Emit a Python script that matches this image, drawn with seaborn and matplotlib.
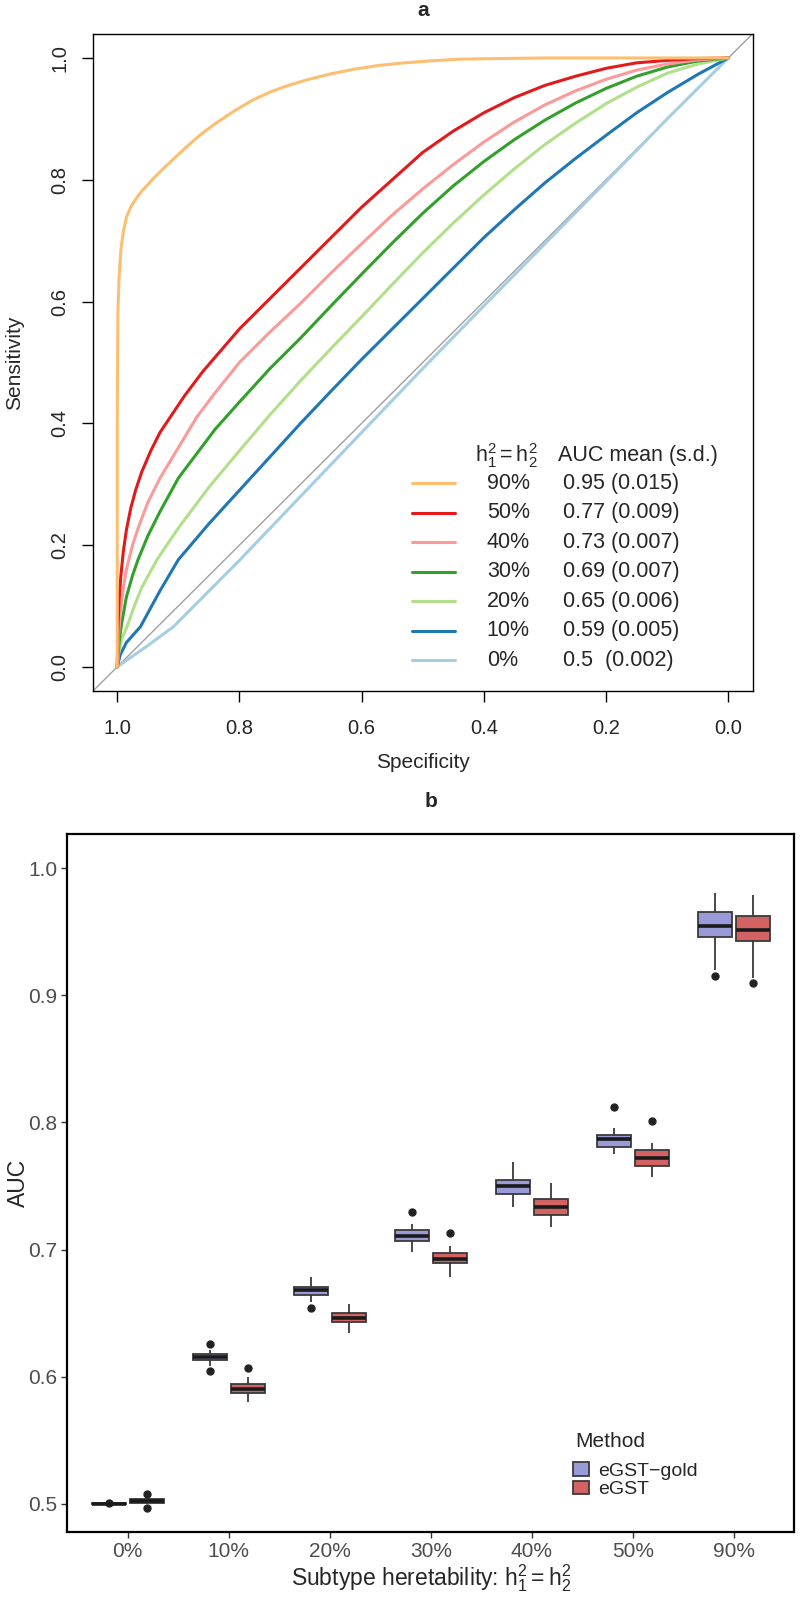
import matplotlib
matplotlib.use("Agg")
import matplotlib.pyplot as plt
import seaborn as sns
import pandas as pd

sns.set_theme(style="white")
plt.rcParams['font.family'] = ['Liberation Sans', 'DejaVu Sans']
plt.rcParams['mathtext.fontset'] = 'custom'
plt.rcParams['mathtext.rm'] = 'Liberation Sans'
plt.rcParams['mathtext.it'] = 'Liberation Sans:italic'

# ---------------- panel a: ROC curves (specificity, sensitivity)
h2_levels = ["90%", "50%", "40%", "30%", "20%", "10%", "0%"]
auc_text = ["0.95 (0.015)", "0.77 (0.009)", "0.73 (0.007)", "0.69 (0.007)",
            "0.65 (0.006)", "0.59 (0.005)", "0.5  (0.002)"]
roc_colors = ["#FDBF6F", "#E31A1C", "#FB9A99", "#33A02C", "#B2DF8A", "#1F78B4", "#A6CEE3"]

spec_90 = [1.0, 1.0, 0.999, 0.997, 0.994, 0.99, 0.985, 0.978, 0.97, 0.96, 0.95, 0.94,
           0.925, 0.91, 0.89, 0.865, 0.84, 0.81, 0.78, 0.75, 0.72, 0.69, 0.65, 0.61,
           0.57, 0.53, 0.49, 0.44, 0.38, 0.30, 0.0]
sens_90 = [0.0, 0.40, 0.58, 0.64, 0.685, 0.715, 0.738, 0.755, 0.768, 0.781, 0.792, 0.803,
           0.818, 0.832, 0.851, 0.873, 0.892, 0.912, 0.930, 0.944, 0.955, 0.964, 0.974, 0.982,
           0.988, 0.992, 0.995, 0.998, 0.999, 1.0, 1.0]
spec_50 = [1.0, 0.999, 0.997, 0.994, 0.99, 0.985, 0.978, 0.97, 0.96, 0.945, 0.93, 0.91,
           0.89, 0.86, 0.83, 0.80, 0.75, 0.70, 0.65, 0.60, 0.55, 0.50, 0.45, 0.40, 0.35,
           0.30, 0.25, 0.20, 0.15, 0.10, 0.05, 0.0]
sens_50 = [0.0, 0.06, 0.11, 0.15, 0.19, 0.225, 0.26, 0.29, 0.32, 0.355, 0.385, 0.415,
           0.445, 0.485, 0.52, 0.555, 0.605, 0.655, 0.705, 0.755, 0.80, 0.845, 0.88, 0.91,
           0.935, 0.955, 0.97, 0.983, 0.992, 0.996, 0.999, 1.0]
spec_40 = [1.0, 0.998, 0.995, 0.99, 0.985, 0.975, 0.965, 0.95, 0.93, 0.90, 0.87, 0.84,
           0.80, 0.75, 0.70, 0.65, 0.60, 0.55, 0.50, 0.45, 0.40, 0.35, 0.30, 0.25, 0.20,
           0.15, 0.10, 0.05, 0.0]
sens_40 = [0.0, 0.05, 0.09, 0.13, 0.16, 0.20, 0.23, 0.27, 0.31, 0.36, 0.41, 0.45,
           0.50, 0.55, 0.597, 0.647, 0.695, 0.742, 0.785, 0.825, 0.862, 0.895, 0.923, 0.946,
           0.965, 0.98, 0.99, 0.997, 1.0]
spec_30 = [1.0, 0.997, 0.993, 0.985, 0.975, 0.966, 0.95, 0.93, 0.90, 0.87, 0.84, 0.80,
           0.75, 0.70, 0.65, 0.60, 0.55, 0.50, 0.45, 0.40, 0.35, 0.30, 0.25, 0.20, 0.15,
           0.10, 0.05, 0.0]
sens_30 = [0.0, 0.04, 0.07, 0.115, 0.15, 0.176, 0.215, 0.255, 0.31, 0.35, 0.39, 0.435,
           0.49, 0.54, 0.593, 0.645, 0.696, 0.745, 0.79, 0.83, 0.866, 0.898, 0.926, 0.95,
           0.97, 0.985, 0.995, 1.0]
spec_20 = [1.0, 0.998, 0.993, 0.984, 0.972, 0.96, 0.935, 0.90, 0.85, 0.80, 0.75, 0.70,
           0.65, 0.60, 0.55, 0.50, 0.45, 0.40, 0.35, 0.30, 0.25, 0.20, 0.15, 0.10, 0.05, 0.0]
sens_20 = [0.0, 0.02, 0.045, 0.066, 0.10, 0.13, 0.176, 0.228, 0.295, 0.355, 0.414, 0.47,
           0.523, 0.575, 0.628, 0.68, 0.729, 0.775, 0.818, 0.858, 0.893, 0.925, 0.952,
           0.975, 0.99, 1.0]
spec_10 = [1.0, 0.995, 0.985, 0.962, 0.93, 0.90, 0.85, 0.80, 0.75, 0.70, 0.65, 0.60,
           0.55, 0.50, 0.45, 0.40, 0.35, 0.30, 0.25, 0.20, 0.15, 0.10, 0.05, 0.0]
sens_10 = [0.0, 0.02, 0.04, 0.066, 0.125, 0.176, 0.235, 0.29, 0.345, 0.40, 0.453, 0.505,
           0.555, 0.605, 0.655, 0.705, 0.751, 0.795, 0.835, 0.873, 0.91, 0.943, 0.973, 1.0]
spec_0 = [1.0, 0.95, 0.908, 0.8, 0.7, 0.6, 0.5, 0.4, 0.3, 0.2, 0.1, 0.0]
sens_0 = [0.0, 0.035, 0.066, 0.175, 0.28, 0.385, 0.49, 0.593, 0.695, 0.797, 0.9, 1.0]

roc_spec = [spec_90, spec_50, spec_40, spec_30, spec_20, spec_10, spec_0]
roc_sens = [sens_90, sens_50, sens_40, sens_30, sens_20, sens_10, sens_0]

# ---------------- panel b: AUC box summaries per heritability and method
b_cats = ["0%", "10%", "20%", "30%", "40%", "50%", "90%"]
methods = ["eGST\u2212gold", "eGST"]
box_colors = ["#9A9AD8", "#D36262"]

gold_lo = [0.4997, 0.6082, 0.6585, 0.6981, 0.7335, 0.775, 0.9198]
gold_q1 = [0.4999, 0.6129, 0.6643, 0.7068, 0.7437, 0.781, 0.9460]
gold_med = [0.5000, 0.6153, 0.6682, 0.7107, 0.7498, 0.787, 0.9544]
gold_q3 = [0.5001, 0.6176, 0.6706, 0.7152, 0.7545, 0.790, 0.9654]
gold_hi = [0.5003, 0.6210, 0.6782, 0.7199, 0.7687, 0.796, 0.9806]
gold_out = [[0.5006], [0.6040, 0.6260], [0.6540], [0.7299], [], [0.812], [0.9153]]

egst_lo = [0.4995, 0.5801, 0.634, 0.6784, 0.718, 0.757, 0.9134]
egst_q1 = [0.5008, 0.5872, 0.643, 0.6890, 0.727, 0.766, 0.9428]
egst_med = [0.5022, 0.5901, 0.646, 0.6929, 0.7335, 0.772, 0.9512]
egst_q3 = [0.5035, 0.5938, 0.650, 0.6976, 0.7396, 0.778, 0.9628]
egst_hi = [0.5055, 0.5998, 0.657, 0.7028, 0.752, 0.784, 0.9793]
egst_out = [[0.4965, 0.5078], [0.6064], [], [0.7128], [], [0.801], [0.9101]]

# long table whose quartiles / whiskers reproduce the summaries above
rows = []
for m, lo, q1, med, q3, hi, out in [
        (methods[0], gold_lo, gold_q1, gold_med, gold_q3, gold_hi, gold_out),
        (methods[1], egst_lo, egst_q1, egst_med, egst_q3, egst_hi, egst_out)]:
    for i, cat in enumerate(b_cats):
        vals = [lo[i]] + [q1[i]] * 3 + [med[i]] * 3 + [q3[i]] * 3 + [hi[i]] + out[i]
        rows += [(cat, m, v) for v in vals]
df_b = pd.DataFrame(rows, columns=["h2", "Method", "AUC"])

fig = plt.figure(figsize=(8, 16), dpi=100)

# ================= panel a
axa = fig.add_axes([0.116, 0.568, 0.825, 0.411])
axa.axline((0, 1), (1, 0), color="#A0A0A0", lw=1, zorder=1)
for spec, sens, col in reversed(list(zip(roc_spec, roc_sens, roc_colors))):
    sns.lineplot(x=spec, y=sens, sort=False, estimator=None, color=col, lw=2.2, ax=axa)
axa.set_xlim(1.04, -0.04)
axa.set_ylim(-0.04, 1.04)
ticks = [1.0, 0.8, 0.6, 0.4, 0.2, 0.0]
axa.set_xticks(ticks)
axa.set_yticks(ticks)
axa.set_xticklabels([f"{t:.1f}" for t in ticks])
axa.set_yticklabels([f"{t:.1f}" for t in ticks], rotation=90, va="center")
axa.tick_params(axis="both", direction="out", length=8, width=1, color="black",
                labelsize=14.5, pad=12, bottom=True, left=True)
axa.tick_params(axis="y", pad=9)
for s in axa.spines.values():
    s.set_color("black")
    s.set_linewidth(1)
axa.set_xlabel("Specificity", fontsize=15)
axa.set_ylabel("Sensitivity", fontsize=15)
axa.xaxis.set_label_coords(0.5, -0.108)
axa.xaxis.label.set_va("center")
axa.yaxis.set_label_coords(-0.118, 0.5)
axa.yaxis.label.set_va("center")
axa.text(0.5, 1 + 23 / 658, "a", transform=axa.transAxes, ha="center", va="center",
         fontsize=15, fontweight="bold")

# legend drawn as a small table
hy = (691 - 455) / 658
axa.text(0.579, hy, r"$\mathregular{h_1^2 = h_2^2}$", transform=axa.transAxes,
         ha="left", va="center", fontsize=15.5)
axa.text(0.7045, hy, "AUC mean (s.d.)", transform=axa.transAxes,
         ha="left", va="center", fontsize=15.5)
for i, (lab, txt, col) in enumerate(zip(h2_levels, auc_text, roc_colors)):
    ry = (691 - 483 - i * 29.5) / 658
    axa.plot([0.4833, 0.5485], [ry, ry], transform=axa.transAxes, color=col, lw=2.2)
    axa.text(0.597, ry, lab, transform=axa.transAxes, ha="left", va="center", fontsize=15.5)
    axa.text(0.712, ry, txt, transform=axa.transAxes, ha="left", va="center", fontsize=15.5)

# ================= panel b
axb = fig.add_axes([0.084, 0.0425, 0.909, 0.436])
sns.boxplot(data=df_b, x="h2", y="AUC", hue="Method", order=b_cats, hue_order=methods,
            palette=box_colors, width=0.75, gap=0.1, saturation=1,
            linecolor="#3a3a3a", linewidth=1.3, showcaps=False,
            flierprops=dict(marker="o", markersize=5, markerfacecolor="#222222",
                            markeredgecolor="#222222"),
            medianprops=dict(color="#1a1a1a", linewidth=2.6), ax=axb)
axb.set_xlim(-0.6, 6.6)
axb.set_ylim(0.4776, 1.0268)
axb.set_yticks([0.5, 0.6, 0.7, 0.8, 0.9, 1.0])
axb.set_yticklabels(["0.5", "0.6", "0.7", "0.8", "0.9", "1.0"])
axb.tick_params(axis="both", direction="out", length=4, width=1, color="#333333",
                labelcolor="#4D4D4D", labelsize=15, pad=3, bottom=True, left=True)
for s in axb.spines.values():
    s.set_color("black")
    s.set_linewidth(1.6)
axb.set_xlabel(r"Subtype heretability: $\mathregular{h_1^2 = h_2^2}$", fontsize=16.5)
axb.set_ylabel("AUC", fontsize=16.5)
axb.xaxis.set_label_coords(0.5, -0.066)
axb.xaxis.label.set_va("center")
axb.yaxis.set_label_coords(-0.067, 0.5)
axb.yaxis.label.set_va("center")
axb.text(0.5, 1 + 33 / 698, "b", transform=axb.transAxes, ha="center", va="center",
         fontsize=15, fontweight="bold")

handles, labels = axb.get_legend_handles_labels()
axb.text(0.699, (1532 - 1441) / 698, "Method", transform=axb.transAxes,
         ha="left", va="center", fontsize=15)
axb.legend(handles, labels, loc="upper left", bbox_to_anchor=(0.696, 0.1),
           frameon=False, fontsize=14, handlelength=0.8, handleheight=0.7,
           labelspacing=0.05, handletextpad=0.5, borderaxespad=0, borderpad=0)

fig.savefig("out.png", dpi=100)
